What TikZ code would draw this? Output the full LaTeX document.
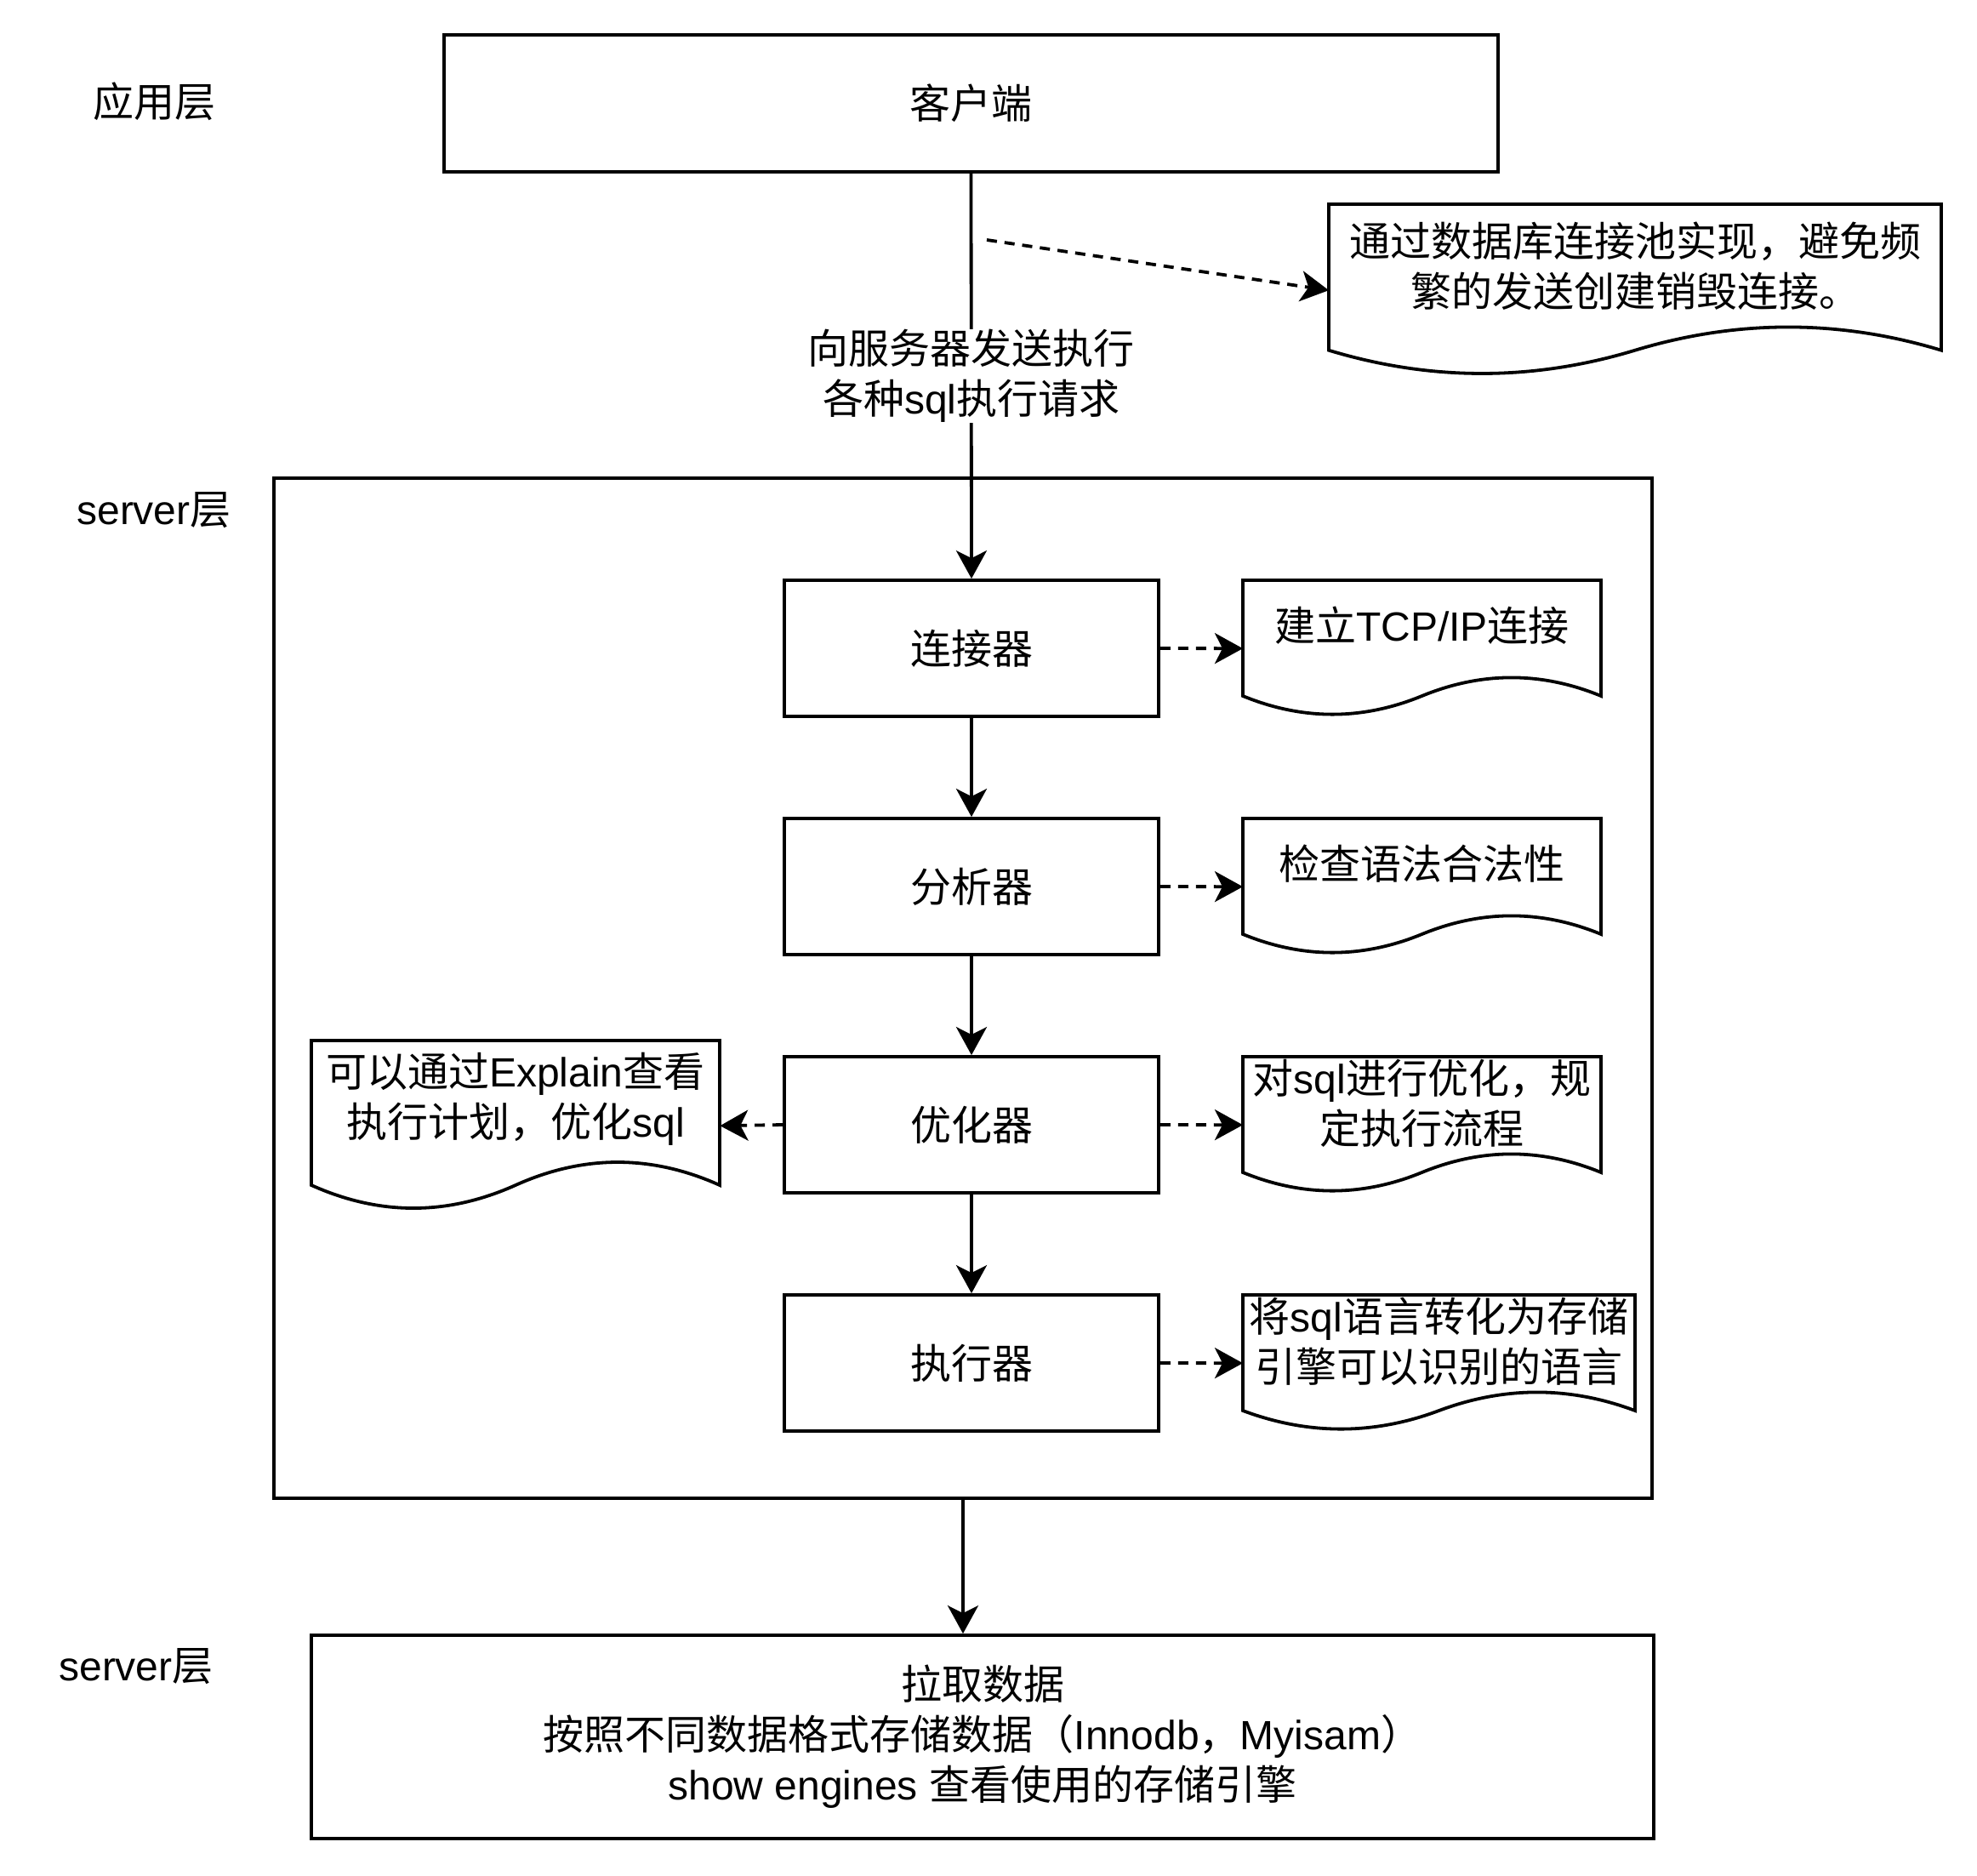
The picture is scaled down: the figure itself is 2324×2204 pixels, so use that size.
\documentclass[tikz,border=0pt]{standalone}
\usepackage{fontspec}
\setmainfont{Liberation Sans}
\newfontfamily\cjkf{Noto Sans CJK SC}
\newcommand\zh[1]{{\cjkf #1}}
\usetikzlibrary{arrows.meta,calc}
\newcommand\mydoc[5]{%
  \node[anch, minimum width=#4pt, minimum height=#5pt, anchor=north west] (#1) at (#2,#3) {};
  \draw[ln] (#2,#3) -- ({#2+#4},#3) -- ({#2+#4},{#3+0.85*#5})
    .. controls ({#2+0.8333*#4},{#3+0.67*#5}) and ({#2+0.6667*#4},{#3+0.67*#5}) .. ({#2+0.5*#4},{#3+0.85*#5})
    .. controls ({#2+0.3333*#4},{#3+1.03*#5}) and ({#2+0.1667*#4},{#3+1.03*#5}) .. (#2,{#3+0.85*#5}) -- cycle;}
\begin{document}
\begin{tikzpicture}[x=1pt,y=-1pt,
  every node/.style={font=\fontsize{48}{59}\selectfont, align=center, inner sep=0pt},
  ln/.style={line width=3.8pt, line join=miter},
  box/.style={draw, line width=3.8pt},
  anch/.style={draw=none, inner sep=0pt},
  arr/.style={line width=3.8pt, -{Stealth[length=33pt,width=36pt,inset=9pt]}},
  darr/.style={arr, dash pattern=on 12pt off 9pt},
  lab/.style={fill=white}]
\useasboundingbox (0,0) rectangle (2324,2204);
% layer labels
\node (lapp) at (181,119) {\zh{应用层}};
\node (lsrv) at (181,600) {server\zh{层}};
\node (lsto) at (160,1959) {server\zh{层}};
% boxes
\node[box, minimum width=1239pt, minimum height=161pt] (client) at (1141.5,121.5) {\zh{客户端}};
\node[box, minimum width=1620pt, minimum height=1199pt] (server) at (1132,1161.5) {};
\node[box, minimum width=440pt, minimum height=160pt] (conn) at (1142,762) {\zh{连接器}};
\node[box, minimum width=440pt, minimum height=160pt] (ana) at (1142,1042) {\zh{分析器}};
\node[box, minimum width=440pt, minimum height=160pt] (opt) at (1142,1322) {\zh{优化器}};
\node[box, minimum width=440pt, minimum height=160pt] (exe) at (1142,1602) {\zh{执行器}};
\node[box, minimum width=1578pt, minimum height=239pt] (store) at (1155,2041.5)
  {\zh{拉取数据}\\\zh{按照不同数据格式存储数据（}Innodb\zh{，}Myisam\zh{）}\\show engines \zh{查看使用的存储引擎}};
% documents
\mydoc{pool}{1562}{240}{720}{202}
\node (pooltxt) at (1922,313) {\zh{通过数据库连接池实现，避免频}\\\zh{繁的发送创建销毁连接。}};
\mydoc{tcp}{1461}{682}{421}{160}
\node (tcptxt) at (1671.5,735) {\zh{建立}TCP/IP\zh{连接}};
\mydoc{gram}{1461}{962}{421}{160}
\node (gramtxt) at (1671.5,1015) {\zh{检查语法合法性}};
\mydoc{optd}{1461}{1242}{421}{160}
\node (optdtxt) at (1671.5,1297) {\zh{对}sql\zh{进行优化，规}\\\zh{定执行流程}};
\mydoc{exed}{1461}{1522}{461}{160}
\node (exedtxt) at (1691.5,1577) {\zh{将}sql\zh{语言转化为存储}\\\zh{引擎可以识别的语言}};
\mydoc{expl}{366}{1223}{480}{200}
\node (expltxt) at (606,1292) {\zh{可以通过}Explain\zh{查看}\\\zh{执行计划，优化}sql};
% connectors
\draw[arr] (client.south) -- node[lab] (req) {\zh{向服务器发送执行}\\\zh{各种}sql\zh{执行请求}} (conn.north);
\coordinate (ps) at (1160,282);
\draw[darr] (ps) -- (pool.west);
\draw[arr] (conn) -- (ana);
\draw[arr] (ana) -- (opt);
\draw[arr] (opt) -- (exe);
\draw[darr] (conn.east) -- (tcp.west);
\draw[darr] (ana.east) -- (gram.west);
\draw[darr] (opt.east) -- (optd.west);
\draw[darr] (exe.east) -- (exed.west);
\draw[darr] (opt.west) -- (expl.east);
\draw[arr] (server.south) -- (server.south |- store.north);
\end{tikzpicture}
\end{document}
